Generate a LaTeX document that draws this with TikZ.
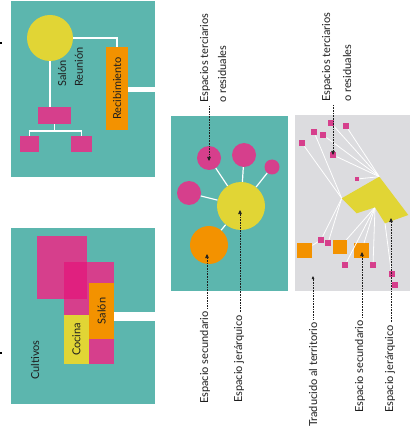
\documentclass[tikz,border=0pt]{standalone}
\usepackage{fontspec}
\setmainfont{Lato}
\usetikzlibrary{arrows.meta}
\definecolor{panelteal}{HTML}{5CB6AE}
\definecolor{cyellow}{HTML}{E1D535}
\definecolor{corange}{HTML}{F39200}
\definecolor{cpink}{HTML}{D63F8C}
\definecolor{cmagenta}{HTML}{E0207F}
\definecolor{cgray}{HTML}{DCDCDF}
\definecolor{ctext}{HTML}{1E1E1E}
\begin{document}
\begin{tikzpicture}[x=1pt,y=-1pt,
  wire/.style={white, line width=1.2pt},
  blob/.style={circle, inner sep=0pt, draw=none},
  box/.style={rectangle, inner sep=0pt, draw=none},
  inlbl/.style={rotate=90, inner sep=0pt, text=ctext, font=\fontsize{11}{13}\selectfont},
  lbl/.style={rotate=90, anchor=west, inner sep=0pt, text=ctext, font=\fontsize{11}{13}\selectfont},
  lead/.style={densely dotted, line width=0.6pt, draw=ctext, shorten <=3pt, -{Triangle[length=4pt,width=3.5pt]}}
]
\useasboundingbox (0,0) rectangle (410,430);
\fill[white] (0,0) rectangle (410,430);
% stray marks
\fill[black] (0,42) rectangle (2,44);
\fill[black] (0,352) rectangle (2,354);

% ---------- panel 1 ----------
\fill[panelteal] (11,1) rectangle (155,177);
\node[blob, fill=cyellow, minimum size=46pt] (sal) at (50,38) {};
\node[box, fill=corange, rotate=90, minimum width=83pt, minimum height=22pt, text=ctext, font=\fontsize{11}{13}\selectfont] (rec) at (117,88.5) {Recibimiento};
\node[box, fill=cpink, minimum width=33pt, minimum height=17pt] (hub) at (54.5,115.5) {};
\node[box, fill=cpink, minimum width=19pt, minimum height=16pt] (l1) at (29.5,144) {};
\node[box, fill=cpink, minimum width=21pt, minimum height=16pt] (r1) at (81.5,144) {};
\coordinate (hb) at (54.5,131);
\coordinate (e1) at (156,89.5);
\draw[wire] (sal.east) -| (rec);
\draw[wire] (sal.south) -- (sal.south |- hub.north);
\draw[wire] (hub.south) -- (hb);
\draw[wire] (l1.north) |- (hb) -| (r1.north);
\draw[white, line width=5pt] (rec.south |- e1) -- (e1);
\node[lbl] (tsal) at (62,87) {Salón};
\node[lbl] (treu) at (79,87) {Reunión};

% ---------- panel 2 ----------
\fill[panelteal] (11,228) rectangle (155,404);
\fill[cpink] (37,236) rectangle (87,299);
\fill[cpink] (64,262) rectangle (114,364);
\fill[cmagenta] (64,262) rectangle (87,299);
\node[box, fill=cyellow, minimum width=25pt, minimum height=49pt] (coc) at (76.5,339.5) {};
\node[inlbl] at (coc) {Cocina};
\node[box, fill=corange, minimum width=25pt, minimum height=56pt] (sln) at (101.5,311) {};
\node[inlbl] at (sln) {Salón};
\coordinate (e2) at (156,316.5);
\draw[white, line width=9pt] (sln.east |- e2) -- (e2);
\node[inlbl] (cult) at (35,360) {Cultivos};

% ---------- panel 3 ----------
\fill[panelteal] (171,116) rectangle (288,291);
\node[blob, fill=cyellow, minimum size=48pt] (Y) at (241,206) {};
\node[blob, fill=corange, minimum size=38pt] (O) at (209,245) {};
\node[blob, fill=cpink, minimum size=24pt] (P1) at (209,158) {};
\node[blob, fill=cpink, minimum size=24pt] (P2) at (244,155) {};
\node[blob, fill=cpink, minimum size=15pt] (P3) at (272,167) {};
\node[blob, fill=cpink, minimum size=24pt] (P4) at (189,193) {};
\foreach \p in {O,P1,P2,P3,P4} \draw[wire] (Y) -- (\p);

% ---------- panel 4 ----------
\fill[cgray] (295,115) rectangle (410,291);
\coordinate (A) at (341.7,198.3);
\coordinate (B) at (379.3,176.7);
\coordinate (C) at (408.3,215);
\coordinate (D) at (385,223.3);
\coordinate (E) at (375,207.3);
\coordinate (F) at (356.7,213.3);
\node[box, fill=cpink, minimum size=6.5pt] (s1) at (331,123) {};
\node[box, fill=cpink, minimum size=6.5pt] (s2) at (346,126) {};
\node[box, fill=cpink, minimum size=6.5pt] (s3) at (314,132) {};
\node[box, fill=cpink, minimum size=6.5pt] (s4) at (323,135) {};
\node[box, fill=cpink, minimum size=6.5pt] (s5) at (302,143) {};
\node[box, fill=cpink, minimum size=6.5pt] (s6) at (333,155) {};
\node[box, fill=cpink, minimum size=4.5pt] (s7) at (357,179) {};
\node[box, fill=corange, minimum width=15pt, minimum height=14.5pt] (o1) at (304.7,250.5) {};
\node[box, fill=corange, minimum width=14.5pt, minimum height=14pt] (o2) at (340,247) {};
\node[box, fill=corange, minimum width=14.5pt, minimum height=14.5pt] (o3) at (361.7,250.5) {};
\node[box, fill=cpink, minimum size=6pt] (q1) at (321,239.7) {};
\node[box, fill=cpink, minimum size=6pt] (q2) at (328,243) {};
\node[box, fill=cpink, minimum size=6pt] (q3) at (345,265) {};
\node[box, fill=cpink, minimum size=6pt] (q4) at (373,265.3) {};
\node[box, fill=cpink, minimum size=6pt] (q5) at (391.5,273.7) {};
\node[box, fill=cpink, minimum size=6pt] (q6) at (394.7,284.7) {};
\foreach \s in {s1,s2,s4,s6,s7} \draw[wire, line width=0.8pt] (B) -- (\s);
\foreach \s in {s3,s5,q1,q2} \draw[wire, line width=0.8pt] (A) -- (\s);
\foreach \s in {o2,o3,q3,q4} \draw[wire, line width=0.8pt] (E) -- (\s);
\draw[wire, line width=0.8pt] (D) -- (q5);
\draw[wire, line width=0.8pt] (o1) -- (q1);
\fill[cyellow] (A) -- (B) -- (C) -- (D) -- (E) -- (F) -- cycle;

% ---------- labels and leaders ----------
\coordinate (mt) at (209,161);
\coordinate (ms) at (207,254);
\coordinate (mj) at (240,210);
\coordinate (gt) at (333,155);
\coordinate (gtr) at (313,276);
\coordinate (gs) at (362,252);
\coordinate (gj) at (391,218);

\node[lbl] (lt1) at (205,103) {Espacios terciarios};
\node[lbl] (lt2) at (222,103) {o residuales};
\draw[lead] (lt1.west -| mt) -- (mt);
\node[lbl] (lms) at (205,404) {Espacio secundario};
\draw[lead] (lms.east -| ms) -- (ms);
\node[lbl] (lmj) at (239,403) {Espacio jerárquico};
\draw[lead] (lmj.east -| mj) -- (mj);

\node[lbl] (gt1) at (327,102) {Espacios terciarios};
\node[lbl] (gt2) at (347,102) {o residuales};
\draw[lead] (gt1.west -| gt) -- (gt);
\node[lbl] (gtt) at (313,427) {Traducido al territorio};
\draw[lead, -{Triangle[length=3pt,width=2.5pt]}] (gtt.east -| gtr) -- (gtr);
\node[lbl] (gss) at (360,413) {Espacio secundario};
\draw[lead] (gss.east -| gs) -- (gs);
\node[lbl] (gjj) at (390,413) {Espacio jerárquico};
\draw[lead] (gjj.east -| gj) -- (gj);
\end{tikzpicture}
\end{document}
